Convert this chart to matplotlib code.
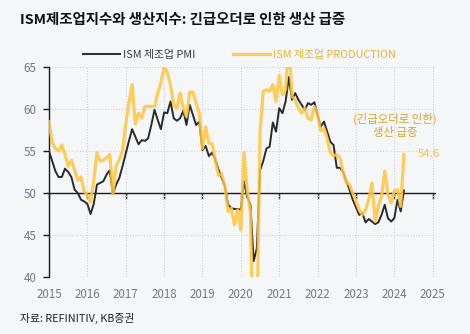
import numpy as np
import matplotlib
matplotlib.use("Agg")
import matplotlib.pyplot as plt
from matplotlib.lines import Line2D

plt.rcParams['font.family'] = ['Noto Sans CJK KR', 'DejaVu Sans']

# Monthly readings, Dec 2014 .. Mar 2024 (month-end)
pmi = [
    55.0,
    53.8, 52.6, 51.9, 51.9, 52.9, 52.5, 51.9, 50.4, 50.0, 49.2, 49.0, 48.7,  # 2015
    47.5, 48.7, 51.0, 51.2, 51.4, 52.2, 52.7, 49.9, 51.0, 51.8, 53.2, 54.7,  # 2016
    56.2, 57.6, 56.7, 55.8, 56.3, 56.2, 56.5, 58.1, 59.9, 58.7, 57.6, 59.6,  # 2017
    59.5, 60.9, 58.9, 58.6, 58.9, 59.8, 58.1, 60.5, 59.3, 58.1, 58.5, 55.1,  # 2018
    55.6, 54.4, 54.8, 54.0, 52.8, 51.8, 50.8, 48.6, 48.2, 48.1, 48.1, 48.0,  # 2019
    51.4, 49.5, 48.6, 41.9, 43.4, 52.7, 53.8, 55.3, 55.5, 58.4, 57.3, 60.1,  # 2020
    59.5, 60.9, 63.8, 61.1, 61.9, 61.1, 60.5, 59.9, 60.7, 60.5, 60.8, 59.3,  # 2021
    57.9, 58.5, 57.3, 56.1, 55.7, 53.0, 53.0, 52.5, 51.4, 50.4, 49.2, 48.3,  # 2022
    47.4, 47.6, 46.5, 46.9, 46.6, 46.3, 46.5, 47.4, 48.6, 47.0, 46.6, 47.0,  # 2023
    49.2, 47.8, 50.3,                                                        # 2024
]
production = [
    58.5,
    56.0, 55.3, 55.0, 55.7, 54.6, 53.2, 53.9, 52.7, 51.5, 51.9, 50.2, 49.8,  # 2015
    48.9, 51.5, 54.8, 53.8, 53.9, 54.2, 54.6, 49.9, 53.2, 54.0, 55.0, 58.2,  # 2016
    60.7, 62.9, 58.2, 59.5, 58.9, 60.3, 60.3, 60.3, 60.3, 61.9, 63.1, 65.1,  # 2017
    64.3, 62.9, 60.5, 60.1, 61.9, 60.1, 59.1, 62.0, 62.0, 60.7, 59.5, 55.3,  # 2018
    57.9, 55.9, 55.9, 53.9, 52.1, 52.3, 50.8, 47.8, 48.2, 46.2, 48.0, 45.6,  # 2019
    54.8, 50.3, 47.7, 27.5, 33.2, 57.3, 62.1, 62.3, 62.1, 62.9, 60.9, 64.0,  # 2020
    61.7, 62.3, 68.1, 61.5, 61.1, 60.1, 59.5, 60.1, 58.9, 58.7, 60.3, 59.3,  # 2021
    57.4, 57.7, 56.5, 54.8, 54.4, 54.6, 54.2, 52.4, 51.2, 51.0, 50.0, 49.0,  # 2022
    48.0, 47.4, 48.0, 49.2, 51.2, 46.6, 48.4, 49.6, 52.6, 49.8, 48.8, 50.3,  # 2023
    50.4, 48.4, 54.6,                                                        # 2024
]
years = list(range(2015, 2026))
yticks = [40, 45, 50, 55, 60, 65]

title = "ISM제조업지수와 생산지수: 긴급오더로 인한 생산 급증"
label_pmi = "ISM 제조업 PMI"
label_prod = "ISM 제조업 PRODUCTION"
note = "(긴급오더로 인한)\n생산 급증"
source = "자료: REFINITIV, KB증권"

BG = "#F5F6F8"
GOLD = "#FFC53D"
DARK = "#2A2A2A"
TICK_C = "#737884"

# month-end positions in fractional years
x = 2015 + np.arange(len(pmi)) / 12.0

fig = plt.figure(figsize=(4.7, 3.34), dpi=100, facecolor=BG)
ax = fig.add_axes([49 / 470, 1 - 277 / 334, 387 / 470, 210 / 334])
ax.set_facecolor(BG)

ax.plot(x, pmi, color=DARK, lw=1.4, zorder=3, solid_joinstyle="round")
ax.plot(x, production, color=GOLD, lw=2.3, alpha=0.85, zorder=4,
        solid_joinstyle="round")

ax.set_xlim(2015, 2025 + 3.3 / 38.37)
ax.set_ylim(40, 65)

# dotted grid
for yv in yticks:
    if yv != 50:
        ax.axhline(yv, color="#CFD2D8", lw=0.8, ls=(0, (1, 1.5)), zorder=1)
for yr in years[1:]:
    ax.axvline(yr, color="#CFD2D8", lw=0.8, ls=(0, (1, 1.5)), zorder=1)
ax.axhline(50, color="#1a1a1a", lw=1.0, zorder=2)

for s in ["top", "right", "bottom"]:
    ax.spines[s].set_visible(False)
ax.spines["left"].set_color("#1a1a1a")
ax.spines["left"].set_linewidth(1.0)

ax.set_yticks(yticks)
ax.tick_params(axis="y", direction="out", length=4, width=1.0, color="#1a1a1a",
               labelsize=8.3, labelcolor=TICK_C, pad=5)
ax.set_xticks(years)
ax.set_xticklabels([str(y) for y in years])
ax.tick_params(axis="x", length=0, labelsize=8.3, labelcolor=TICK_C, pad=8)

# tick marks on the 50 line
sec = ax.secondary_xaxis(0.4)
sec.set_xticks(years)
sec.tick_params(axis="x", direction="out", length=4, width=1.0,
                color="#1a1a1a", labelbottom=False, labeltop=False)
sec.spines["bottom"].set_visible(False)
sec.spines["top"].set_visible(False)

# annotations
ax.text(0.894, 0.723, note, transform=ax.transAxes, ha="center", va="center",
        fontsize=8.2, color="#D8A425", linespacing=1.25)
ax.annotate(f"{production[-1]:.1f}", xy=(x[-1], production[-1]),
            xytext=(10, 0), textcoords="offset points", ha="left", va="center",
            fontsize=8.2, color="#EFC255", annotation_clip=False)

handles = [Line2D([], [], color=DARK, lw=1.4),
           Line2D([], [], color=GOLD, lw=2.3, alpha=0.85)]
leg = fig.legend(handles, [label_pmi, label_prod], loc="center",
                 bbox_to_anchor=(239.5 / 470, 1 - 54.7 / 334), ncol=2,
                 frameon=False, fontsize=7.8, handlelength=3.4,
                 handletextpad=0.3, columnspacing=3.4)
leg.get_texts()[0].set_color("#3A3A3A")
leg.get_texts()[1].set_color("#E2B43A")

fig.text(20 / 470, 1 - 20 / 334, title, fontsize=10.4, weight="bold",
         ha="left", va="center", color="#111111")
fig.text(20 / 470, 1 - 318 / 334, source, fontsize=7.8, ha="left",
         va="center", color="#222222")

fig.savefig("out.png", dpi=100, facecolor=BG)
